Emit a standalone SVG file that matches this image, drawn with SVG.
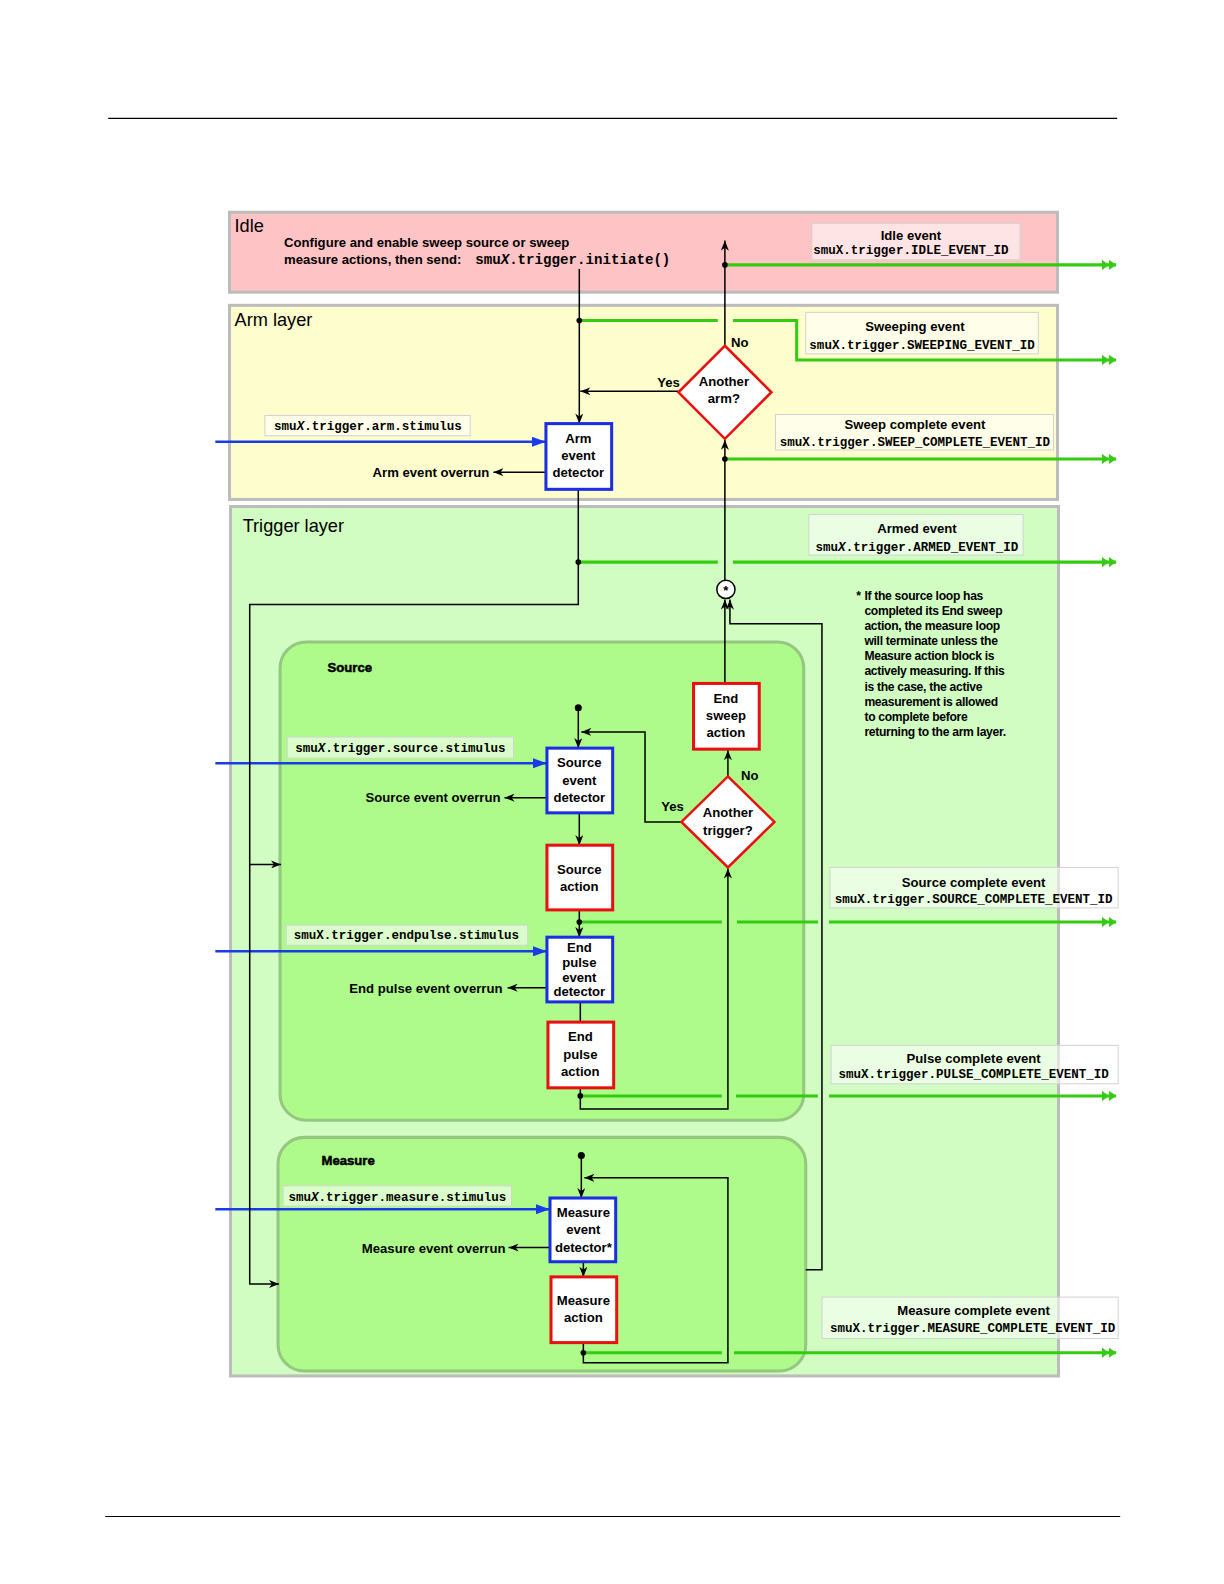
<svg xmlns="http://www.w3.org/2000/svg" width="1224" height="1584" viewBox="0 0 1224 1584">
<style>
.t{font-family:"Liberation Sans",Arial,sans-serif;font-size:13px;font-weight:bold;fill:#000}
.c{text-anchor:middle}
.r{text-anchor:end}
.h{font-size:18px;font-weight:normal}
.gt{font-size:13px;font-weight:bold;stroke:#000;stroke-width:0.5}
.nt{font-size:12px;letter-spacing:-0.3px}
.m{font-family:"Liberation Mono","Courier New",monospace;font-size:12.4px;font-weight:bold;fill:#000}
.mi{font-size:14px}
.layer{stroke:#bcbcbc;stroke-width:3}
.inner{fill:#aefb8c;stroke:#94c77f;stroke-width:3}
.ev{fill:#ffffff;fill-opacity:0.55;stroke:#d2d2d2;stroke-width:1}
.det{fill:#fff;stroke:#1a2fe0;stroke-width:3}
.act{fill:#fff;stroke:#e81010;stroke-width:3}
.dia{fill:#fff;stroke:#e81010;stroke-width:2.5}
.k{fill:none;stroke:#000;stroke-width:1.5}
.g{fill:none;stroke:#33cc11;stroke-width:3}
.bl{fill:none;stroke:#1a3be8;stroke-width:2.5}
</style>
<defs>
<marker id="ak" markerUnits="userSpaceOnUse" viewBox="0 0 10 8" markerWidth="10" markerHeight="8" refX="10" refY="4" orient="auto"><path d="M0,0 L10,4 L0,8 L3,4 z" fill="#000"/></marker>
<marker id="ab" markerUnits="userSpaceOnUse" viewBox="0 0 14 10" markerWidth="14" markerHeight="10" refX="14" refY="5" orient="auto"><path d="M0,0 L14,5 L0,10 z" fill="#1a3be8"/></marker>
<marker id="ag" markerUnits="userSpaceOnUse" viewBox="0 0 14 10" markerWidth="14" markerHeight="10" refX="14" refY="5" orient="auto"><path d="M0,0 L7,5 L0,10 z M7,0 L14,5 L7,10 z" fill="#33cc11"/></marker>
</defs>
<g transform="scale(1.011)">
<line x1="107" y1="117" x2="1105" y2="117" stroke="#000" stroke-width="1.2"/>
<line x1="104" y1="1500" x2="1108" y2="1500" stroke="#000" stroke-width="1.2"/>

<g id="idle-layer">
<rect class="layer" x="227" y="210" width="819" height="79" fill="#fec3c5"/>
<text class="t h" x="232" y="229">Idle</text>
<text class="t" x="281" y="244">Configure and enable sweep source or sweep</text>
<text class="t" x="281" y="261">measure actions, then send:</text>
<text class="m mi" x="470" y="261">smu<tspan font-style="italic">X</tspan>.trigger.initiate()</text>
</g>
<g id="arm-layer">
<rect class="layer" x="227" y="302" width="819" height="192" fill="#fefdcd"/>
<text class="t h" x="232" y="322">Arm layer</text>
</g>
<g id="trigger-layer">
<rect class="layer" x="228" y="501" width="819" height="860" fill="#d1fdc3"/>
<text class="t h" x="240" y="526">Trigger layer</text>
</g>
<g id="source-group">
<rect class="inner" x="277" y="635" width="518" height="473" rx="26"/>
<text class="t gt" x="324" y="665">Source</text>
</g>
<g id="measure-group">
<rect class="inner" x="275" y="1125" width="522" height="231" rx="26"/>
<text class="t gt" x="318" y="1152">Measure</text>
</g>

<g id="connectors">
<path class="g" d="M717,262 H1104" marker-end="url(#ag)"/>
<path class="g" d="M573,317 H710 M725,317 H788 V356 H1104" marker-end="url(#ag)"/>
<path class="g" d="M717,454 H1104" marker-end="url(#ag)"/>
<path class="g" d="M572,556 H710 M725,556 H1104" marker-end="url(#ag)"/>
<path class="g" d="M573,912 H714 M729,912 H809 M820,912 H1104" marker-end="url(#ag)"/>
<path class="g" d="M574,1084 H714 M728,1084 H809 M820,1084 H1104" marker-end="url(#ag)"/>
<path class="g" d="M577,1338 H714 M726,1338 H1104" marker-end="url(#ag)"/>

<path class="bl" d="M213,437 H540" marker-end="url(#ab)"/>
<path class="bl" d="M213,755 H541" marker-end="url(#ab)"/>
<path class="bl" d="M213,941 H541" marker-end="url(#ab)"/>
<path class="bl" d="M213,1196 H544" marker-end="url(#ab)"/>

<path class="k" d="M573,266 V419" marker-end="url(#ak)"/>
<path class="k" d="M671,387 H574" marker-end="url(#ak)"/>
<path class="k" d="M717,342 V238" marker-end="url(#ak)"/>
<path class="k" d="M717,574 V435" marker-end="url(#ak)"/>
<path class="k" d="M572,484 V598 H247 V1270 H276" marker-end="url(#ak)"/>
<path class="k" d="M247,855 H278" marker-end="url(#ak)"/>
<path class="k" d="M540,467 H488" marker-end="url(#ak)"/>
<path class="k" d="M717,676 V593" marker-end="url(#ak)"/>
<path class="k" d="M797,1256 H813 V617 H722 V593" marker-end="url(#ak)"/>
<path class="k" d="M572,700 V740" marker-end="url(#ak)"/>
<path class="k" d="M674,813 H638 V724 H575" marker-end="url(#ak)"/>
<path class="k" d="M541,789 H499" marker-end="url(#ak)"/>
<path class="k" d="M573,804 V836" marker-end="url(#ak)"/>
<path class="k" d="M573,900 V927" marker-end="url(#ak)"/>
<path class="k" d="M541,977 H502" marker-end="url(#ak)"/>
<path class="k" d="M574,991 V1011"/>
<path class="k" d="M574,1076 V1097 H720 V859" marker-end="url(#ak)"/>
<path class="k" d="M720,768 V742" marker-end="url(#ak)"/>
<path class="k" d="M575,1143 V1185" marker-end="url(#ak)"/>
<path class="k" d="M577,1328 V1348 H720 V1165 H578" marker-end="url(#ak)"/>
<path class="k" d="M544,1234 H503" marker-end="url(#ak)"/>
<path class="k" d="M577,1248 V1263" marker-end="url(#ak)"/>

<circle cx="573" cy="317" r="2.8" fill="#000"/>
<circle cx="717" cy="262" r="2.8" fill="#000"/>
<circle cx="717" cy="454" r="2.8" fill="#000"/>
<circle cx="572" cy="556" r="2.8" fill="#000"/>
<circle cx="572" cy="700" r="3.5" fill="#000"/>
<circle cx="573" cy="912" r="2.8" fill="#000"/>
<circle cx="574" cy="1084" r="2.8" fill="#000"/>
<circle cx="575" cy="1143" r="3.5" fill="#000"/>
<circle cx="577" cy="1338" r="2.8" fill="#000"/>
</g>

<g id="idle-event">
<rect class="ev" x="803" y="221" width="206" height="36"/>
<text class="t c" x="901" y="237">Idle event</text>
<text class="m c" x="901" y="251">smuX.trigger.IDLE_EVENT_ID</text>
</g>
<g id="sweeping-event">
<rect class="ev" x="797" y="309" width="230" height="41"/>
<text class="t c" x="905" y="327">Sweeping event</text>
<text class="m c" x="912" y="345">smuX.trigger.SWEEPING_EVENT_ID</text>
</g>
<g id="sweep-complete-event">
<rect class="ev" x="767" y="410" width="275" height="35"/>
<text class="t c" x="905" y="424">Sweep complete event</text>
<text class="m c" x="905" y="441">smuX.trigger.SWEEP_COMPLETE_EVENT_ID</text>
</g>
<g id="armed-event">
<rect class="ev" x="800" y="509" width="212" height="40"/>
<text class="t c" x="907" y="527">Armed event</text>
<text class="m c" x="907" y="545">smu<tspan font-style="italic">X</tspan>.trigger.ARMED_EVENT_ID</text>
</g>
<g id="source-complete-event">
<rect class="ev" x="821" y="858" width="285" height="40"/>
<text class="t c" x="963" y="877">Source complete event</text>
<text class="m c" x="963" y="893">smuX.trigger.SOURCE_COMPLETE_EVENT_ID</text>
</g>
<g id="pulse-complete-event">
<rect class="ev" x="822" y="1034" width="284" height="38"/>
<text class="t c" x="963" y="1051">Pulse complete event</text>
<text class="m c" x="963" y="1066">smuX.trigger.PULSE_COMPLETE_EVENT_ID</text>
</g>
<g id="measure-complete-event">
<rect class="ev" x="813" y="1283" width="293" height="41"/>
<text class="t c" x="963" y="1301">Measure complete event</text>
<text class="m c" x="962" y="1318">smuX.trigger.MEASURE_COMPLETE_EVENT_ID</text>
</g>

<g id="arm-stimulus">
<rect class="ev" x="262" y="411" width="203" height="20"/>
<text class="m c" x="364" y="425">smu<tspan font-style="italic">X</tspan>.trigger.arm.stimulus</text>
</g>
<g id="source-stimulus">
<rect class="ev" x="284" y="729" width="224" height="21"/>
<text class="m c" x="396" y="744">smu<tspan font-style="italic">X</tspan>.trigger.source.stimulus</text>
</g>
<g id="endpulse-stimulus">
<rect class="ev" x="283" y="915" width="239" height="20"/>
<text class="m c" x="402" y="929">smuX.trigger.endpulse.stimulus</text>
</g>
<g id="measure-stimulus">
<rect class="ev" x="280" y="1173" width="226" height="20"/>
<text class="m c" x="393" y="1188">smu<tspan font-style="italic">X</tspan>.trigger.measure.stimulus</text>
</g>

<g id="another-arm">
<polygon class="dia" points="717,342 763,388 717,434 671,388"/>
<text class="t c" x="716" y="382">Another</text>
<text class="t c" x="716" y="399">arm?</text>
<text class="t" x="723" y="343">No</text>
<text class="t" x="650" y="383">Yes</text>
</g>
<g id="arm-event-detector">
<rect class="det" x="540" y="419" width="65" height="65"/>
<text class="t c" x="572" y="438">Arm</text>
<text class="t c" x="572" y="455">event</text>
<text class="t c" x="572" y="472">detector</text>
<text class="t r" x="484" y="472">Arm event overrun</text>
</g>
<g id="star-join">
<circle cx="718" cy="583" r="9" fill="#fff" stroke="#000" stroke-width="1.5"/>
<text class="t c" x="718" y="589">*</text>
</g>
<g id="note">
<text class="t nt" x="847" y="593">*</text>
<text class="t nt">
<tspan x="855" y="593">If the source loop has</tspan>
<tspan x="855" y="608">completed its End sweep</tspan>
<tspan x="855" y="623">action, the measure loop</tspan>
<tspan x="855" y="638">will terminate unless the</tspan>
<tspan x="855" y="653">Measure action block is</tspan>
<tspan x="855" y="668">actively measuring. If this</tspan>
<tspan x="855" y="683">is the case, the active</tspan>
<tspan x="855" y="698">measurement is allowed</tspan>
<tspan x="855" y="713">to complete before</tspan>
<tspan x="855" y="728">returning to the arm layer.</tspan>
</text>
</g>
<g id="end-sweep-action">
<rect class="act" x="686" y="676" width="65" height="65"/>
<text class="t c" x="718" y="695">End</text>
<text class="t c" x="718" y="712">sweep</text>
<text class="t c" x="718" y="729">action</text>
</g>
<g id="another-trigger">
<polygon class="dia" points="720,768 766,813 720,858 674,813"/>
<text class="t c" x="720" y="808">Another</text>
<text class="t c" x="720" y="826">trigger?</text>
<text class="t" x="733" y="772">No</text>
<text class="t" x="654" y="802">Yes</text>
</g>
<g id="source-event-detector">
<rect class="det" x="541" y="740" width="65" height="64"/>
<text class="t c" x="573" y="759">Source</text>
<text class="t c" x="573" y="776">event</text>
<text class="t c" x="573" y="793">detector</text>
<text class="t r" x="495" y="793">Source event overrun</text>
</g>
<g id="source-action">
<rect class="act" x="541" y="836" width="65" height="64"/>
<text class="t c" x="573" y="864">Source</text>
<text class="t c" x="573" y="881">action</text>
</g>
<g id="end-pulse-event-detector">
<rect class="det" x="541" y="927" width="65" height="64"/>
<text class="t c" x="573" y="942">End</text>
<text class="t c" x="573" y="956">pulse</text>
<text class="t c" x="573" y="971">event</text>
<text class="t c" x="573" y="985">detector</text>
<text class="t r" x="497" y="982">End pulse event overrun</text>
</g>
<g id="end-pulse-action">
<rect class="act" x="542" y="1011" width="65" height="65"/>
<text class="t c" x="574" y="1030">End</text>
<text class="t c" x="574" y="1047">pulse</text>
<text class="t c" x="574" y="1064">action</text>
</g>
<g id="measure-event-detector">
<rect class="det" x="544" y="1185" width="65" height="63"/>
<text class="t c" x="577" y="1204">Measure</text>
<text class="t c" x="577" y="1221">event</text>
<text class="t c" x="577" y="1238">detector*</text>
<text class="t r" x="500" y="1239">Measure event overrun</text>
</g>
<g id="measure-action">
<rect class="act" x="545" y="1263" width="65" height="65"/>
<text class="t c" x="577" y="1291">Measure</text>
<text class="t c" x="577" y="1308">action</text>
</g>
</g>
</svg>
